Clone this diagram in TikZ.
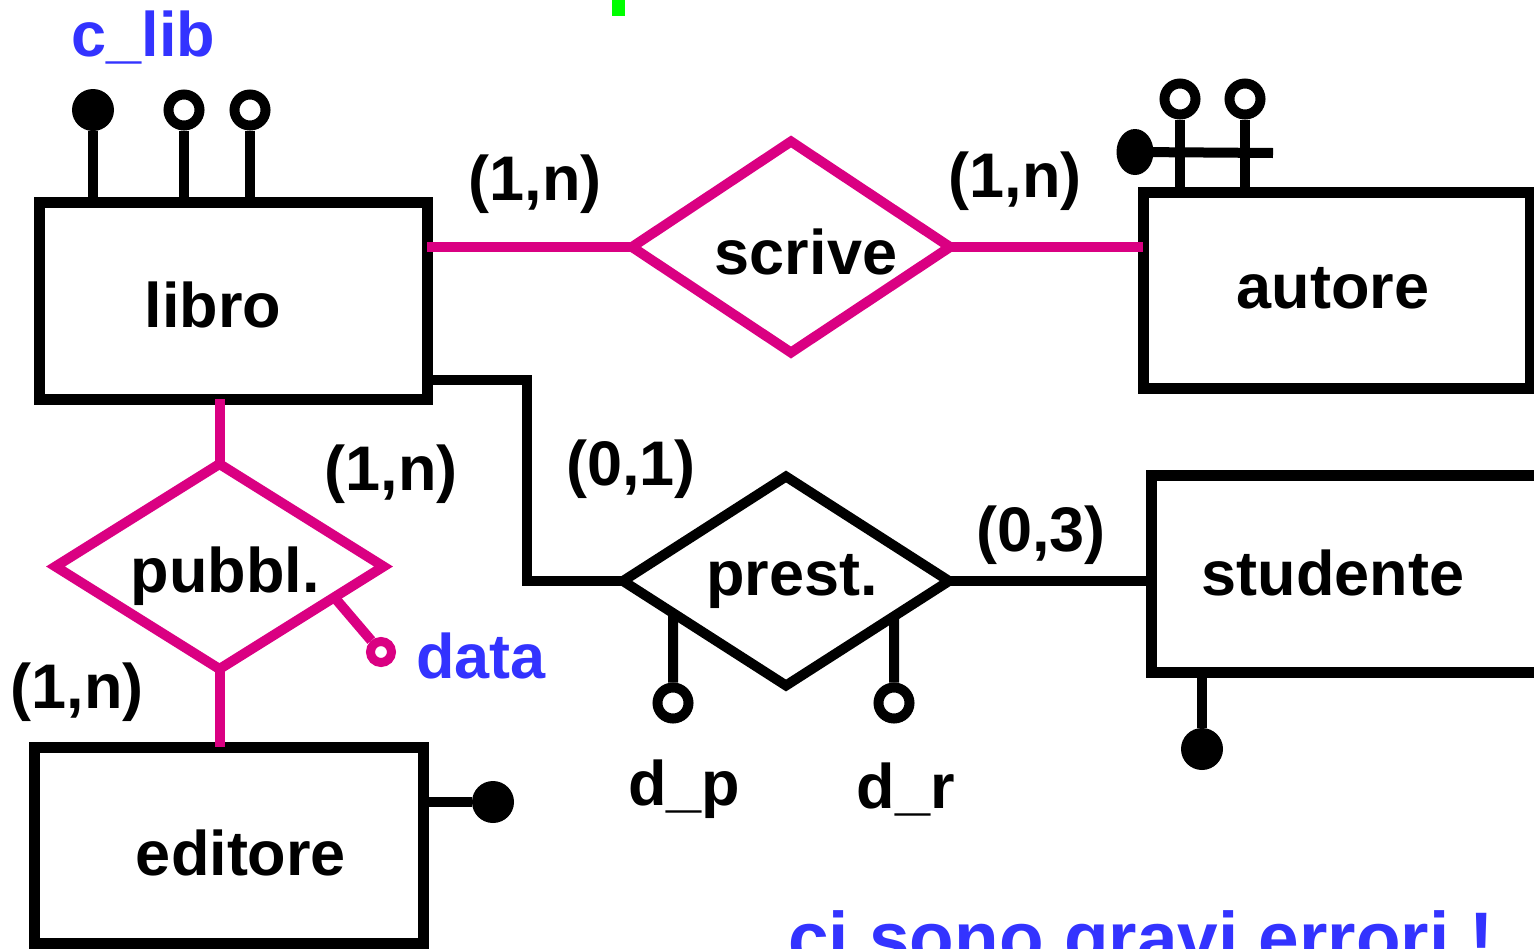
\documentclass[tikz,border=0pt]{standalone}
\usepackage{fontspec}
\setmainfont{Liberation Sans}
\usepackage{tikz}
\usetikzlibrary{shapes.geometric,calc}
\definecolor{relmag}{RGB}{218,0,130}
\definecolor{attblue}{RGB}{51,51,255}
\definecolor{topgreen}{RGB}{0,255,0}

\begin{document}
\begin{tikzpicture}[x=1pt, y=-1pt,
    entity/.style={draw, rectangle, line width=11pt, outer sep=0pt, inner sep=0pt},
    rel/.style={draw, diamond, line width=10pt, outer sep=0pt, inner sep=0pt},
    lbl/.style={font=\fontsize{63}{63}\selectfont\bfseries, inner sep=0pt, anchor=base},
    conn/.style={line width=10pt},
    keydot/.style={circle, fill=black, inner sep=0pt, minimum size=42pt},
    attring/.style={circle, draw, line width=10pt, inner sep=0pt, minimum size=31pt}]
    \useasboundingbox (0,0) rectangle (1534,948);
    \clip (0,0) rectangle (1534,948);
    \fill[topgreen] (612,0) rectangle (625,16);
    % Entities
    \node[entity, minimum width=388pt, minimum height=197pt] (libro) at (233,300.5) {};
    \node[lbl] (libro-t) at (213,327) {libro};
    \node[entity, minimum width=387pt, minimum height=196pt] (autore) at (1336.5,290) {};
    \node[lbl] (autore-t) at (1333,308) {autore};
    \node[entity, minimum width=409pt, minimum height=197pt] (studente) at (1355.5,573.5) {};
    \node[lbl] (studente-t) at (1333,595) {studente};
    \node[entity, minimum width=389pt, minimum height=196pt] (editore) at (228.5,845) {};
    \node[lbl] (editore-t) at (241,875) {editore};
    % Relationships
    \node[rel, draw=relmag, minimum width=318pt, minimum height=211pt] (scrive) at (791,247) {};
    \node[lbl] (scrive-t) at (806,274) {scrive};
    \node[rel, minimum width=326pt, minimum height=209pt] (prest) at (786,581) {};
    \node[lbl] (prest-t) at (792,595) {prest.};
    \node[rel, draw=relmag, minimum width=328pt, minimum height=205pt] (pubbl) at (219.5,566.5) {};
    \node[lbl] (pubbl-t) at (225,592) {pubbl.};
    % Connections
    \draw[conn, relmag] (libro.east |- scrive.west) -- (scrive.west);
    \draw[conn, relmag] (scrive.east) -- (scrive.east -| autore.west);
    \coordinate (bend) at (527,380);
    \draw[conn] (libro.east |- bend) -- (bend) |- (prest.west);
    \draw[conn] (prest.east) -- (prest.east -| studente.west);
    \draw[conn, relmag] (pubbl.north |- libro.south) -- (pubbl.north);
    \draw[conn, relmag] (pubbl.south) -- (pubbl.south |- editore.north);
    % Cardinalities
    \node[lbl] (c1) at (535,200) {(1,n)};
    \node[lbl] (c2) at (1015,197) {(1,n)};
    \node[lbl] (c3) at (391,490) {(1,n)};
    \node[lbl] (c4) at (77,708) {(1,n)};
    \node[lbl] (c5) at (631,485) {(0,1)};
    \node[lbl] (c6) at (1041,551) {(0,3)};
    % Attributes of libro
    \node[keydot] (lk) at (93,110) {};
    \node[attring] (la1) at (184,110) {};
    \node[attring] (la2) at (250,110) {};
    \draw[conn] (lk) -- (lk |- libro.north);
    \draw[conn] (la1) -- (la1 |- libro.north);
    \draw[conn] (la2) -- (la2 |- libro.north);
    \node[lbl, text=attblue] (clib) at (143.5,56) {c\_lib};
    % Attributes of autore
    \node[ellipse, fill=black, inner sep=0pt, minimum width=37pt, minimum height=46pt] (ak) at (1135,152) {};
    \node[attring] (aa1) at (1180,99) {};
    \node[attring] (aa2) at (1245,99) {};
    \draw[conn] (aa1) -- (aa1 |- autore.north);
    \draw[conn] (aa2) -- (aa2 |- autore.north);
    \coordinate (akend) at (1273,153);
    \draw[conn] (ak.center) -- (akend);
    % Attributes of prest.
    \node[attring] (dp) at (673,703) {};
    \node[attring] (dr) at (894,703) {};
    \draw[conn] (dp) -- ($(prest.west)!0.307!(prest.south)$);
    \draw[conn] (dr) -- ($(prest.east)!0.337!(prest.south)$);
    \node[lbl] (dp-t) at (684,805) {d\_p};
    \node[lbl] (dr-t) at (906,808) {d\_r};
    % Attribute of pubbl.
    \node[circle, draw=relmag, line width=9pt, inner sep=0pt, minimum size=21pt] (dring) at (381,652) {};
    \draw[line width=10pt, relmag] ($(pubbl.east)!0.3!(pubbl.south)$) -- (dring);
    \node[lbl, text=attblue] (data) at (481,678) {data};
    % Keys of studente and editore
    \node[keydot] (sk) at (1202,749) {};
    \draw[conn] (sk) -- (sk |- studente.south);
    \node[keydot] (ek) at (493,802) {};
    \draw[conn] (ek) -- (ek -| editore.east);
    % Note
    \node[lbl, anchor=base west, text=attblue, font=\fontsize{73}{73}\selectfont\bfseries] (note) at (788,963) {ci sono gravi errori !};
\end{tikzpicture}
\end{document}
